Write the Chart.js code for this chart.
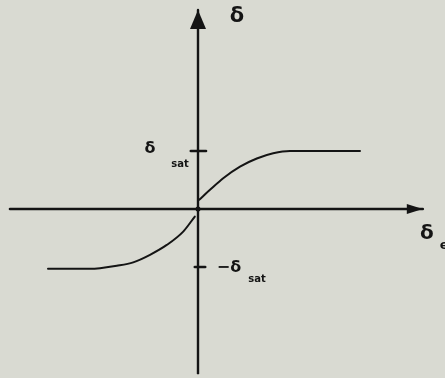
<!DOCTYPE html>
<html>
<head>
<meta charset="utf-8">
<script src="https://cdn.jsdelivr.net/npm/chart.js@4.4.1/dist/chart.umd.min.js"></script>
<style>
html, body { margin: 0; padding: 0; background: #d9dad2; overflow: hidden; }
#wrap { width: 445px; height: 378px; }
</style>
</head>
<body>
<div id="wrap"><canvas id="chart" width="445" height="378"></canvas></div>
<script>
// ------------------------------------------------------------
// saturation curve: delta vs delta_e (delta_sat normalised to 1)
// ------------------------------------------------------------
const rightX = [0.03, 0.3, 0.63, 1.05, 1.47, 1.88, 2.3, 2.72, 4.05];
const rightY = [0.16, 0.33, 0.53, 0.73, 0.87, 0.96, 1.0, 1.0, 1.0];
const leftX = [-3.75, -2.7, -2.45, -2.03, -1.62, -1.2, -0.78, -0.37, -0.08];
const leftY = [-1.03, -1.03, -1.02, -0.98, -0.92, -0.79, -0.62, -0.39, -0.13];

// axes and the two saturation ticks
const xAxisX = [-4.7, 5.62];
const yAxisY = [-2.83, 3.43];
const satLevels = [1, -1];
const satTickX = [[-0.18, 0.2], [-0.08, 0.18]];

const ink = '#141414';

function pts(xs, ys) {
    return xs.map((x, i) => ({ x: x, y: ys[i] }));
}

const lineSet = (data, width, smooth) => ({
    data: data,
    borderColor: ink,
    borderWidth: width,
    pointRadius: 0,
    tension: smooth ? 0.4 : 0,
    cubicInterpolationMode: smooth ? 'monotone' : 'default',
    borderCapStyle: 'round'
});

const datasets = [
    lineSet(pts(xAxisX, [0, 0]), 2.6, false),
    lineSet(pts([0, 0], yAxisY), 2.4, false),
    lineSet(pts(rightX, rightY), 2, true),
    lineSet(pts(leftX, leftY), 2, true)
];
satLevels.forEach((lvl, i) => {
    datasets.push(lineSet(pts(satTickX[i], [lvl, lvl]), 2.6, false));
});

// arrowheads + hand lettering
const decor = {
    id: 'decor',
    beforeDraw(chart) {
        const c = chart.ctx;
        c.save();
        c.fillStyle = '#d9dad2';
        c.fillRect(0, 0, chart.width, chart.height);
        c.restore();
    },
    afterDatasetsDraw(chart) {
        const c = chart.ctx;
        const xs = chart.scales.x, ys = chart.scales.y;
        const x0 = xs.getPixelForValue(0), y0 = ys.getPixelForValue(0);
        c.save();
        c.fillStyle = ink;

        // right arrow
        const tx = xs.getPixelForValue(xAxisX[1]);
        c.beginPath();
        c.moveTo(tx, y0);
        c.lineTo(tx - 16, y0 - 5);
        c.lineTo(tx - 16, y0 + 5);
        c.closePath();
        c.fill();

        // up arrow
        const ty = ys.getPixelForValue(yAxisY[1]);
        c.beginPath();
        c.moveTo(x0, ty);
        c.lineTo(x0 - 8, ty + 19);
        c.lineTo(x0 + 8, ty + 19);
        c.closePath();
        c.fill();

        // origin dot
        c.beginPath();
        c.arc(x0, y0, 2.5, 0, Math.PI * 2);
        c.fill();

        c.textAlign = 'center';
        c.textBaseline = 'middle';
        const font = (w, s) => w + ' ' + s + 'px "DejaVu Sans"';

        // vertical axis label
        c.font = font('bold', 21);
        c.fillText('δ', x0 + 39, ty + 7);

        // delta_sat
        const yp = ys.getPixelForValue(satLevels[0]);
        c.font = font('bold', 16);
        c.fillText('δ', x0 - 48, yp - 2);
        c.font = font('bold', 10);
        c.fillText('sat', x0 - 18, yp + 13);

        // -delta_sat
        const yn = ys.getPixelForValue(satLevels[1]);
        c.font = font('bold', 16);
        c.fillText('−δ', x0 + 31, yn + 1);
        c.font = font('bold', 10);
        c.fillText('sat', x0 + 59, yn + 12);

        // horizontal axis label
        c.font = font('bold', 20);
        c.fillText('δ', tx + 4, y0 + 25);
        c.font = font('bold', 13);
        c.textAlign = 'left';
        c.fillText('e', tx + 17, y0 + 37);

        c.restore();
    }
};

new Chart(document.getElementById('chart'), {
    type: 'line',
    data: { datasets: datasets },
    options: {
        responsive: false,
        animation: false,
        devicePixelRatio: 1,
        layout: { padding: 0 },
        plugins: { legend: { display: false }, tooltip: { enabled: false } },
        scales: {
            x: { type: 'linear', min: -4.95, max: 6.175, display: false },
            y: { type: 'linear', min: -2.914, max: 3.603, display: false }
        }
    },
    plugins: [decor]
});
</script>
</body>
</html>
